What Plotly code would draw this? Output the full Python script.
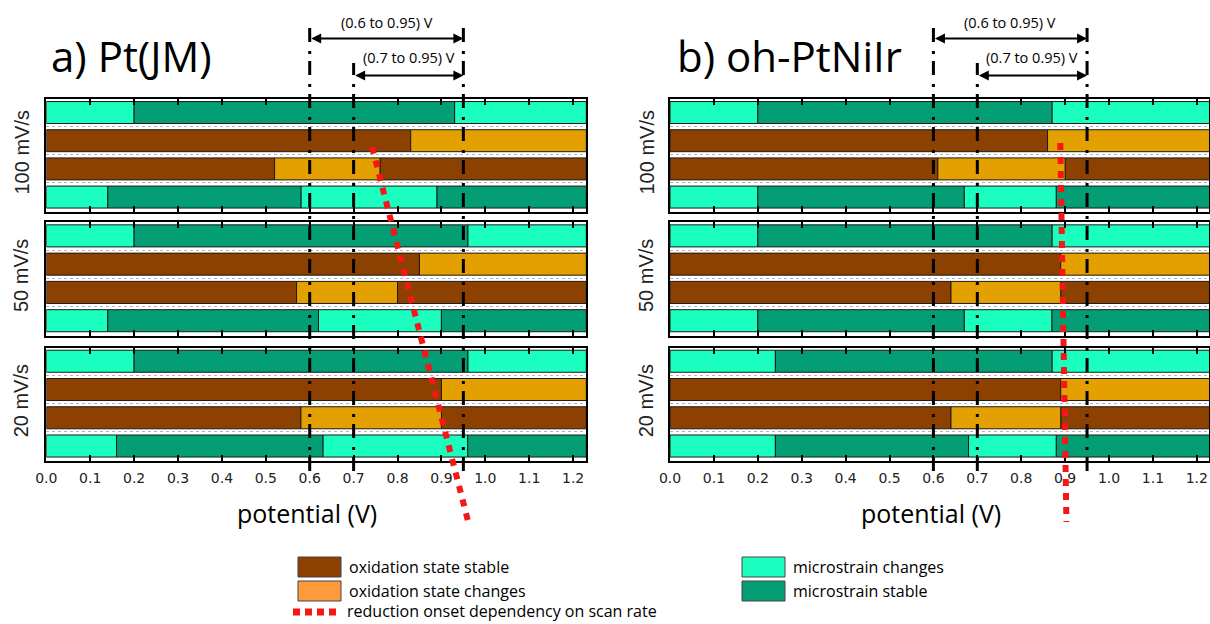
import plotly.graph_objects as go
from plotly.subplots import make_subplots

W, H = 1210, 624
X_MAX = 1.23  # upper end of the potential axis (V)

scan_rates = ["100 mV/s", "50 mV/s", "20 mV/s"]
panel_titles = ["a) Pt(JM)", "b) oh-PtNiIr"]
tick_values = [round(0.1 * i, 1) for i in range(13)]

# Switching potentials (V) for each scan rate (100, 50, 20 mV/s); rows listed top to bottom.
# Pt(JM)
ptjm_strain_upper = [[0.20, 0.93], [0.20, 0.96], [0.20, 0.96]]            # changes | stable | changes
ptjm_ox_upper = [[0.83], [0.85], [0.90]]                                   # stable | changes
ptjm_ox_lower = [[0.52, 0.76], [0.57, 0.80], [0.58, 0.90]]                 # stable | changes | stable
ptjm_strain_lower = [[0.14, 0.58, 0.89], [0.14, 0.62, 0.90], [0.16, 0.63, 0.96]]  # changes | stable | changes | stable
# oh-PtNiIr
ohpt_strain_upper = [[0.20, 0.87], [0.20, 0.87], [0.24, 0.87]]
ohpt_ox_upper = [[0.86], [0.89], [0.89]]
ohpt_ox_lower = [[0.61, 0.90], [0.64, 0.89], [0.64, 0.89]]
ohpt_strain_lower = [[0.20, 0.67, 0.88], [0.20, 0.67, 0.87], [0.24, 0.68, 0.88]]

# Reduction onset trend (V): start / end of the dotted guide line
ptjm_onset_line = [0.742, 0.960]
ohpt_onset_line = [0.889, 0.903]

# Potential windows marked above each panel
window_wide = [0.6, 0.95]
window_narrow = [0.7, 0.95]

OX_STABLE = "#8D4100"
OX_CHANGE = "#E3A000"
ST_CHANGE = "#1AFFC0"
ST_STABLE = "#039E74"
LEG_OX_CHANGE = "#FF9A3C"
RED = "rgb(245,22,22)"

TEXT_FONT = "Open Sans"
AXIS_FONT = "Liberation Sans"
TICK_FONT = "DejaVu Sans"


def px(x):
    return x / W


def py(y):
    return 1 - y / H


panels = [
    (ptjm_strain_upper, ptjm_ox_upper, ptjm_ox_lower, ptjm_strain_lower),
    (ohpt_strain_upper, ohpt_ox_upper, ohpt_ox_lower, ohpt_strain_lower),
]
row_colors = [
    (ST_CHANGE, ST_STABLE),
    (OX_STABLE, OX_CHANGE),
    (OX_STABLE, OX_CHANGE),
    (ST_CHANGE, ST_STABLE),
]
row_pos = [3, 2, 1, 0]

fig = make_subplots(rows=3, cols=2)

for c, panel in enumerate(panels):
    for r in range(3):
        per_color = {}
        for k, series in enumerate(panel):
            edges = [0.0] + list(series[r]) + [X_MAX]
            for s in range(len(edges) - 1):
                col = row_colors[k][s % 2]
                d = per_color.setdefault(col, {"y": [], "x": [], "base": []})
                d["y"].append(row_pos[k])
                d["base"].append(edges[s])
                d["x"].append(edges[s + 1] - edges[s])
        for col, d in per_color.items():
            fig.add_trace(
                go.Bar(
                    orientation="h", y=d["y"], x=d["x"], base=d["base"],
                    width=0.78, marker=dict(color=col, line=dict(color="#1a1a1a", width=1)),
                    showlegend=False, hoverinfo="skip",
                ),
                row=r + 1, col=c + 1,
            )

# Panel geometry (pixels)
x_dom = [(46.3, 586.3), (670.0, 1209.0)]
y_dom = [(99, 212), (222.3, 335.7), (347.7, 461)]

for r in range(3):
    for c in range(2):
        n = r * 2 + c + 1
        xa = "xaxis" if n == 1 else f"xaxis{n}"
        ya = "yaxis" if n == 1 else f"yaxis{n}"
        x_rng = X_MAX if c == 0 else X_MAX * (x_dom[1][1] - x_dom[1][0]) / (x_dom[0][1] - x_dom[0][0])
        fig.layout[xa].update(
            domain=[px(x_dom[c][0]), px(x_dom[c][1])], automargin=False,
            range=[0, x_rng], tickvals=tick_values, tickformat=".1f",
            ticks="inside", ticklen=6, tickwidth=2, tickcolor="black",
            showline=True, linecolor="black", linewidth=2, mirror="ticks",
            showgrid=False, zeroline=False,
            showticklabels=(r == 2),
            tickfont=dict(family=TICK_FONT, size=14, color="#222"),
            ticklabelstandoff=3,
        )
        fig.layout[ya].update(
            domain=[py(y_dom[r][1]), py(y_dom[r][0])], automargin=False,
            range=[-0.53, 3.48], tickvals=[0.5, 1.5, 2.5],
            showticklabels=False, ticks="",
            showgrid=True, gridcolor="#b4b4b4", griddash="dot", gridwidth=1,
            showline=True, linecolor="black", linewidth=2, mirror=True,
            zeroline=False,
        )

fig.update_layout(barmode="overlay")

shapes = []
annotations = []
bottom_x = ["x5", "x6"]
onset_lines = [ptjm_onset_line, ohpt_onset_line]
onset_y = [(147, 520), (143, 522)]
DASHDOT = "14px,7px,3px,9px"

for c in range(2):
    xr = bottom_x[c]
    # vertical window markers
    for v, top in [(window_wide[0], 27), (window_narrow[0], 63), (window_wide[1], 27)]:
        shapes.append(dict(type="line", xref=xr, yref="paper", x0=v, x1=v,
                           y0=py(471), y1=py(top), line=dict(color="black", width=3, dash=DASHDOT)))
    # reduction onset guide
    o = onset_lines[c]
    shapes.append(dict(type="line", xref=xr, yref="paper", x0=o[0], x1=o[1],
                       y0=py(onset_y[c][0]), y1=py(onset_y[c][1]),
                       line=dict(color=RED, width=6, dash="7px,7px")))
    # double-headed window arrows and labels
    for win, ya_px, yt_px in [(window_wide, 38.5, 22.5), (window_narrow, 75.5, 57.5)]:
        annotations.append(dict(xref=xr, yref="paper", x=win[1], y=py(ya_px), axref=xr, ax=win[0],
                                ayref="pixel", ay=0, text="", showarrow=True, arrowside="end+start",
                                arrowhead=2, startarrowhead=2, arrowsize=1, startarrowsize=1,
                                arrowwidth=2, arrowcolor="black", standoff=0, startstandoff=0))
        annotations.append(dict(xref=xr, yref="paper", x=(win[0] + win[1]) / 2, y=py(yt_px),
                                text=f"({win[0]:g} to {win[1]:g}) V", showarrow=False,
                                font=dict(family=TEXT_FONT, size=14.5, color="black"),
                                xanchor="center", yanchor="middle"))
    # x-axis title
    annotations.append(dict(xref="paper", yref="paper", x=px([307, 931][c]), y=py(513),
                            text="potential (V)", showarrow=False,
                            font=dict(family=TEXT_FONT, size=25, color="black"),
                            xanchor="center", yanchor="middle"))
    # panel title
    annotations.append(dict(xref="paper", yref="paper", x=px([49, 675][c]), y=py(55),
                            text=panel_titles[c], showarrow=False,
                            font=dict(family=TEXT_FONT, size=42, color="black"),
                            xanchor="left", yanchor="middle"))
    # scan-rate labels
    for r in range(3):
        yc = (y_dom[r][0] + y_dom[r][1]) / 2
        annotations.append(dict(xref="paper", yref="paper", x=px([21, 646][c]), y=py(yc - 3),
                                text=scan_rates[r], showarrow=False, textangle=-90,
                                font=dict(family=AXIS_FONT, size=20, color="#222"),
                                xanchor="center", yanchor="middle"))

# Legend
legend_boxes = [
    (298, 557, OX_STABLE, "oxidation state stable"),
    (298, 581, LEG_OX_CHANGE, "oxidation state changes"),
    (742, 557, ST_CHANGE, "microstrain changes"),
    (742, 581, ST_STABLE, "microstrain stable"),
]
for x0, y0, col, label in legend_boxes:
    shapes.append(dict(type="rect", xref="paper", yref="paper", x0=px(x0), x1=px(x0 + 43),
                       y0=py(y0 + 20), y1=py(y0), fillcolor=col,
                       line=dict(color="#444", width=1)))
    annotations.append(dict(xref="paper", yref="paper", x=px(x0 + 49), y=py(y0 + 10), text=label,
                            showarrow=False, xanchor="left", yanchor="middle",
                            font=dict(family=TEXT_FONT, size=16, color="black")))
shapes.append(dict(type="line", xref="paper", yref="paper", x0=px(293), x1=px(341),
                   y0=py(612), y1=py(612), line=dict(color=RED, width=7, dash="7px,5px")))
annotations.append(dict(xref="paper", yref="paper", x=px(345), y=py(611),
                        text="reduction onset dependency on scan rate", showarrow=False,
                        xanchor="left", yanchor="middle",
                        font=dict(family=TEXT_FONT, size=16, color="black")))

fig.update_layout(
    width=W, height=H, margin=dict(l=0, r=0, t=0, b=0),
    paper_bgcolor="white", plot_bgcolor="white",
    shapes=shapes, annotations=annotations, showlegend=False,
)

fig.write_html("out.html")
